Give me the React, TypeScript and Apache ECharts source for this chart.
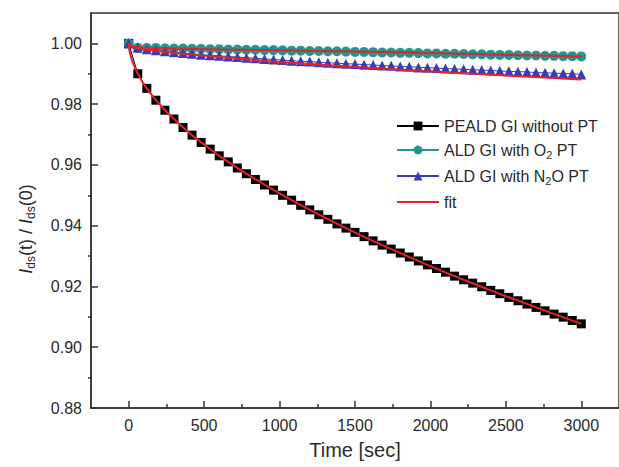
import React, { useEffect, useRef } from "react";
import * as echarts from "echarts";

const timeSec = [
  0, 60, 120, 180, 240, 300, 360, 420, 480, 540, 600, 660, 720, 780, 840, 900, 960, 1020, 1080, 1140,
  1200, 1260, 1320, 1380, 1440, 1500, 1560, 1620, 1680, 1740, 1800, 1860, 1920, 1980, 2040, 2100, 2160,
  2220, 2280, 2340, 2400, 2460, 2520, 2580, 2640, 2700, 2760, 2820, 2880, 2940, 3000,
];

const peald = [
  1.0, 0.99, 0.9852, 0.9813, 0.978, 0.9751, 0.9723, 0.9698, 0.9674, 0.9652, 0.963, 0.961, 0.959, 0.9571,
  0.9552, 0.9534, 0.9517, 0.95, 0.9484, 0.9467, 0.9452, 0.9436, 0.9421, 0.9406, 0.9392, 0.9378, 0.9364,
  0.935, 0.9336, 0.9323, 0.931, 0.9297, 0.9284, 0.9271, 0.9259, 0.9247, 0.9234, 0.9222, 0.9211, 0.9199,
  0.9187, 0.9176, 0.9164, 0.9153, 0.9142, 0.9131, 0.912, 0.9109, 0.9099, 0.9088, 0.9077,
];

const aldO2 = [
  1.0, 0.9986, 0.9985, 0.9985, 0.9984, 0.9983, 0.9983, 0.9982, 0.9982, 0.9981, 0.9981, 0.998, 0.998,
  0.9979, 0.9979, 0.9978, 0.9978, 0.9977, 0.9976, 0.9976, 0.9975, 0.9975, 0.9974, 0.9974, 0.9973, 0.9972,
  0.9972, 0.9971, 0.997, 0.997, 0.9969, 0.9969, 0.9968, 0.9967, 0.9967, 0.9966, 0.9966, 0.9965, 0.9964,
  0.9964, 0.9963, 0.9962, 0.9962, 0.9961, 0.996, 0.996, 0.9959, 0.9959, 0.9958, 0.9958, 0.9957,
];

const aldN2O = [
  1.0, 0.9986, 0.9981, 0.9977, 0.9974, 0.9971, 0.9968, 0.9966, 0.9963, 0.9961, 0.9959, 0.9957, 0.9955,
  0.9953, 0.9951, 0.9949, 0.9947, 0.9945, 0.9943, 0.9941, 0.994, 0.9938, 0.9936, 0.9935, 0.9933, 0.9932,
  0.993, 0.9929, 0.9927, 0.9926, 0.9924, 0.9923, 0.9921, 0.992, 0.9919, 0.9917, 0.9916, 0.9915, 0.9913,
  0.9912, 0.9911, 0.9909, 0.9908, 0.9907, 0.9906, 0.9904, 0.9903, 0.9902, 0.9901, 0.99, 0.9898,
];

const fitTimePeald = [
  0, 5, 10, 20, 30, 45, 60, 90, 120, 180, 240, 300, 400, 500, 600, 800, 1000, 1200, 1400, 1600, 1800,
  2000, 2200, 2400, 2600, 2800, 3000,
];
const fitPeald = [
  1.0, 0.9976, 0.9964, 0.9946, 0.9933, 0.9915, 0.99, 0.9874, 0.9852, 0.9813, 0.978, 0.9751, 0.9706,
  0.9667, 0.963, 0.9565, 0.9506, 0.9452, 0.9402, 0.9354, 0.931, 0.9267, 0.9226, 0.9187, 0.915, 0.9113,
  0.9077,
];

const fitTimeAld = [0, 10, 30, 60, 120, 300, 600, 1000, 1500, 2000, 2500, 3000];
const fitO2 = [1.0, 0.9994, 0.999, 0.9987, 0.9985, 0.9983, 0.998, 0.9977, 0.9973, 0.9968, 0.9962, 0.9957];
const fitN2O = [1.0, 0.9994, 0.9989, 0.9984, 0.9979, 0.9968, 0.9955, 0.9939, 0.9922, 0.9908, 0.9894, 0.9881];

const xMajorTicks = [0, 500, 1000, 1500, 2000, 2500, 3000];
const xMinorTicks = [250, 750, 1250, 1750, 2250, 2750];
const yMajorTicks = [0.88, 0.9, 0.92, 0.94, 0.96, 0.98, 1.0];
const yMinorTicks = [0.89, 0.91, 0.93, 0.95, 0.97, 0.99];

const seriesNames = ["PEALD GI without PT", "ALD GI with O2 PT", "ALD GI with N2O PT", "fit"];

const pair = (xs: number[], ys: number[]) => xs.map((x, i) => [x, ys[i]]);

const FONT = "Liberation Sans, Arial, sans-serif";
const TEXT = "#2a2a2a";
const AXIS = "#333";
const RED = "#e3232b";

const GRID_LEFT = 91;
const GRID_TOP = 13;
const GRID_W = 531;
const GRID_H = 395;

export default function App() {
  const ref = useRef<HTMLDivElement>(null);

  useEffect(() => {
    if (!ref.current) return;
    const chart = echarts.init(ref.current, undefined, { renderer: "svg" });

    const xRange = { min: -250, max: 3250 };
    const yRange = { min: 0.88, max: 1.01 };
    const tickLine = { color: AXIS, width: 1.5 };

    const option: any = {
      animation: false,
      backgroundColor: "#fff",
      grid: {
        left: GRID_LEFT,
        top: GRID_TOP,
        width: GRID_W,
        height: GRID_H,
        show: true,
        borderColor: AXIS,
        borderWidth: 1.5,
        backgroundColor: "transparent",
      },
      legend: {
        orient: "vertical",
        left: 391,
        top: 113,
        itemWidth: 42,
        itemHeight: 11,
        itemGap: 8,
        data: [
          seriesNames[0],
          seriesNames[1],
          seriesNames[2],
          { name: seriesNames[3], itemStyle: { opacity: 0 } },
        ],
        textStyle: {
          fontFamily: FONT,
          fontSize: 16,
          color: TEXT,
          rich: {
            s: { fontFamily: FONT, fontSize: 11, color: TEXT, padding: [9, 0, 0, 0] },
          },
        },
        formatter: (name: string) =>
          name.replace("O2 PT", "O{s|2} PT").replace("N2O PT", "N{s|2}O PT"),
      },
      graphic: [
        {
          type: "text",
          x: 26,
          y: 229,
          rotation: Math.PI / 2,
          style: {
            text: "{i|I}{s|ds}(t) / {i|I}{s|ds}(0)",
            align: "center",
            verticalAlign: "middle",
            fontFamily: FONT,
            fontSize: 18,
            fill: TEXT,
            rich: {
              i: { fontFamily: FONT, fontSize: 18, fontStyle: "italic", fill: TEXT },
              s: { fontFamily: FONT, fontSize: 12, fill: TEXT, padding: [9, 0, 0, 0] },
            },
          },
        },
      ],
      xAxis: [
        {
          type: "value",
          ...xRange,
          position: "bottom",
          name: "Time [sec]",
          nameLocation: "middle",
          nameGap: 32,
          nameTextStyle: { fontFamily: FONT, fontSize: 20, color: TEXT },
          axisLine: { show: true, onZero: false, lineStyle: tickLine },
          axisTick: { show: true, inside: true, length: 7, customValues: xMajorTicks, lineStyle: tickLine },
          axisLabel: {
            customValues: xMajorTicks,
            margin: 9,
            fontFamily: FONT,
            fontSize: 16,
            color: TEXT,
            formatter: (v: number) => String(v),
          },
          splitLine: { show: false },
        },
        {
          type: "value",
          ...xRange,
          position: "top",
          offset: -GRID_H,
          axisLine: { show: false, onZero: false },
          axisTick: { show: true, inside: false, length: 4, customValues: xMinorTicks, lineStyle: tickLine },
          axisLabel: { show: false },
          splitLine: { show: false },
        },
      ],
      yAxis: [
        {
          type: "value",
          ...yRange,
          position: "left",
          axisLine: { show: true, onZero: false, lineStyle: tickLine },
          axisTick: { show: true, inside: true, length: 7, customValues: yMajorTicks, lineStyle: tickLine },
          axisLabel: {
            customValues: yMajorTicks,
            margin: 9,
            fontFamily: FONT,
            fontSize: 16,
            color: TEXT,
            formatter: (v: number) => v.toFixed(2),
          },
          splitLine: { show: false },
        },
        {
          type: "value",
          ...yRange,
          position: "right",
          offset: -GRID_W,
          axisLine: { show: false, onZero: false },
          axisTick: { show: true, inside: false, length: 4, customValues: yMinorTicks, lineStyle: tickLine },
          axisLabel: { show: false },
          splitLine: { show: false },
        },
      ],
      series: [
        {
          name: seriesNames[0],
          type: "line",
          data: pair(timeSec, peald),
          symbol: "rect",
          symbolSize: 9,
          itemStyle: { color: "#000" },
          lineStyle: { color: "#000", width: 1 },
          z: 2,
        },
        {
          name: seriesNames[1],
          type: "line",
          data: pair(timeSec, aldO2),
          symbol: "circle",
          symbolSize: 10,
          itemStyle: { color: "#24968b" },
          lineStyle: { color: "#24968b", width: 1 },
          z: 2,
        },
        {
          name: seriesNames[2],
          type: "line",
          data: pair(timeSec, aldN2O),
          symbol: "triangle",
          symbolSize: 10,
          itemStyle: { color: "#3b3bb3" },
          lineStyle: { color: "#3b3bb3", width: 1 },
          z: 2,
        },
        {
          name: "fit",
          type: "line",
          data: pair(fitTimePeald, fitPeald),
          symbol: "none",
          smooth: 0.3,
          lineStyle: { color: RED, width: 2 },
          itemStyle: { color: RED },
          z: 3,
        },
        {
          name: "fit",
          type: "line",
          data: pair(fitTimeAld, fitO2),
          symbol: "none",
          smooth: 0.3,
          lineStyle: { color: RED, width: 2 },
          itemStyle: { color: RED },
          z: 3,
        },
        {
          name: "fit",
          type: "line",
          data: pair(fitTimeAld, fitN2O),
          symbol: "none",
          smooth: 0.3,
          lineStyle: { color: RED, width: 2 },
          itemStyle: { color: RED },
          z: 3,
        },
      ],
    };

    chart.setOption(option);
    return () => chart.dispose();
  }, []);

  return (
    <div ref={ref} style={{ position: "absolute", left: 0, top: 0, width: 619, height: 467 }} />
  );
}
